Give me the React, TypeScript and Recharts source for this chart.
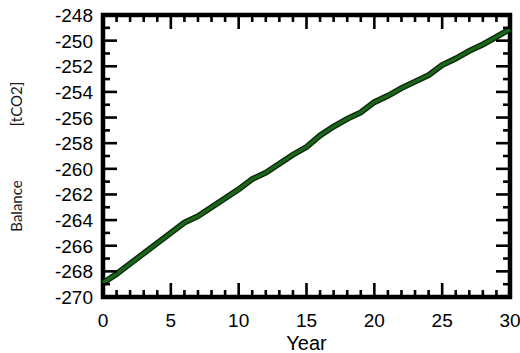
import React from "react";
import { LineChart, Line, XAxis, YAxis, ReferenceArea } from "recharts";

const years = [0,1,2,3,4,5,6,7,8,9,10,11,12,13,14,15,16,17,18,19,20,21,22,23,24,25,26,27,28,29,30];
const balance = [-268.9,-268.2,-267.4,-266.6,-265.8,-265.0,-264.2,-263.7,-263.0,-262.3,-261.6,-260.8,-260.3,-259.6,-258.9,-258.3,-257.4,-256.7,-256.1,-255.6,-254.8,-254.3,-253.7,-253.2,-252.7,-251.9,-251.4,-250.8,-250.3,-249.7,-249.1];
const xTicks = [0,1,2,3,4,5,6,7,8,9,10,11,12,13,14,15,16,17,18,19,20,21,22,23,24,25,26,27,28,29,30];
const yTicks = [-270,-269,-268,-267,-266,-265,-264,-263,-262,-261,-260,-259,-258,-257,-256,-255,-254,-253,-252,-251,-250,-249,-248];

const data = years.map((y, i) => ({ year: y, value: balance[i] }));

const W = 520, H = 353;
const M = { top: 15, right: 10, left: 0, bottom: 0 };
const YW = 103, XH = 56;
const PW = W - YW - M.right;
const PH = H - M.top - XH;
const FONT = "'Liberation Sans', Arial, sans-serif";

const XTick = (props: any) => {
  const { x, y, payload } = props;
  const v = payload.value;
  const major = v % 5 === 0;
  const len = major ? 14 : 7;
  return (
    <g>
      <line x1={x} x2={x} y1={y} y2={y - len} stroke="#000" strokeWidth={2.6} />
      <line x1={x} x2={x} y1={y - PH} y2={y - PH + len} stroke="#000" strokeWidth={2.6} />
      {major && (
        <text x={x} y={y + 30} textAnchor="middle" fontFamily={FONT} fontSize={19} fill="#000">{v}</text>
      )}
    </g>
  );
};

const YTick = (props: any) => {
  const { x, y, payload } = props;
  const v = payload.value;
  const major = v % 2 === 0;
  const len = major ? 14 : 7;
  return (
    <g>
      <line x1={x} x2={x + len} y1={y} y2={y} stroke="#000" strokeWidth={2.6} />
      <line x1={x + PW} x2={x + PW - len} y1={y} y2={y} stroke="#000" strokeWidth={2.6} />
      {major && (
        <text x={x - 10} y={y + 7} textAnchor="end" fontFamily={FONT} fontSize={19} fill="#000">{v}</text>
      )}
    </g>
  );
};

const YLabel = () => (
  <g fontFamily="Lato, 'Open Sans', sans-serif" fontSize={15} fill="#1a1a1a">
    <text x={22} y={206} transform="rotate(-90 22 206)" textAnchor="middle">Balance</text>
    <text x={22} y={104} transform="rotate(-90 22 104)" textAnchor="middle">[tCO2]</text>
  </g>
);

const XLabel = () => (
  <text x={YW + PW / 2} y={350} textAnchor="middle" fontFamily={FONT} fontSize={20} fill="#000">Year</text>
);

export default function App() {
  return (
    <div style={{ position: "absolute", left: 0, top: 0, width: W, height: H, background: "#fff" }}>
      <LineChart width={W} height={H} data={data} margin={M}>
        <XAxis
          dataKey="year"
          type="number"
          domain={[0, 30]}
          ticks={xTicks}
          interval={0}
          height={XH}
          tickSize={0}
          tickMargin={0}
          tickLine={false}
          axisLine={false}
          tick={<XTick />}
          label={<XLabel />}
        />
        <YAxis
          type="number"
          domain={[-270, -248]}
          ticks={yTicks}
          interval={0}
          width={YW}
          tickSize={0}
          tickMargin={0}
          tickLine={false}
          axisLine={false}
          tick={<YTick />}
          label={<YLabel />}
        />
        <ReferenceArea x1={0} x2={30} y1={-270} y2={-248} fill="none" fillOpacity={0} stroke="#000" strokeWidth={4.5} />
        <Line dataKey="value" stroke="#0b2a0b" strokeWidth={6} dot={false} isAnimationActive={false} />
        <Line dataKey="value" stroke="#1b661b" strokeWidth={3.2} dot={false} isAnimationActive={false} />
      </LineChart>
    </div>
  );
}
